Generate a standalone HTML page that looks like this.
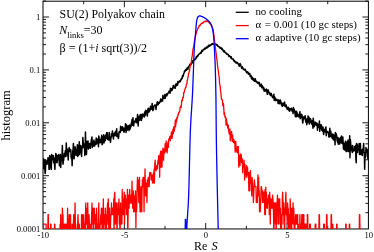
<!DOCTYPE html>
<html><head><meta charset="utf-8"><style>
html,body{margin:0;padding:0;background:#fff;}
body{width:374px;height:252px;overflow:hidden;}
svg{display:block;will-change:transform;}
text{font-family:"Liberation Serif",serif;fill:#000;stroke:none;}
</style></head><body>
<svg width="374" height="252" viewBox="0 0 374 252">
<rect width="374" height="252" fill="#fff"/>
<defs><clipPath id="c"><rect x="43.0" y="1.2" width="325.4" height="227.75"/></clipPath></defs>
<rect x="43.0" y="1.2" width="325.4" height="227.75" fill="none" stroke="#000" stroke-width="1.0"/>
<line x1="83.67" y1="228.95" x2="83.67" y2="225.95" stroke="#000" stroke-width="0.9"/>
<line x1="83.67" y1="1.20" x2="83.67" y2="4.20" stroke="#000" stroke-width="0.9"/>
<line x1="124.35" y1="228.95" x2="124.35" y2="222.95" stroke="#000" stroke-width="0.9"/>
<line x1="124.35" y1="1.20" x2="124.35" y2="7.20" stroke="#000" stroke-width="0.9"/>
<line x1="165.03" y1="228.95" x2="165.03" y2="225.95" stroke="#000" stroke-width="0.9"/>
<line x1="165.03" y1="1.20" x2="165.03" y2="4.20" stroke="#000" stroke-width="0.9"/>
<line x1="205.70" y1="228.95" x2="205.70" y2="222.95" stroke="#000" stroke-width="0.9"/>
<line x1="205.70" y1="1.20" x2="205.70" y2="7.20" stroke="#000" stroke-width="0.9"/>
<line x1="246.37" y1="228.95" x2="246.37" y2="225.95" stroke="#000" stroke-width="0.9"/>
<line x1="246.37" y1="1.20" x2="246.37" y2="4.20" stroke="#000" stroke-width="0.9"/>
<line x1="287.05" y1="228.95" x2="287.05" y2="222.95" stroke="#000" stroke-width="0.9"/>
<line x1="287.05" y1="1.20" x2="287.05" y2="3.80" stroke="#000" stroke-width="0.9"/>
<line x1="327.73" y1="228.95" x2="327.73" y2="225.95" stroke="#000" stroke-width="0.9"/>
<line x1="327.73" y1="1.20" x2="327.73" y2="4.20" stroke="#000" stroke-width="0.9"/>
<line x1="43.00" y1="212.68" x2="46.00" y2="212.68" stroke="#000" stroke-width="0.9"/>
<line x1="368.40" y1="212.68" x2="365.40" y2="212.68" stroke="#000" stroke-width="0.9"/>
<line x1="43.00" y1="203.36" x2="46.00" y2="203.36" stroke="#000" stroke-width="0.9"/>
<line x1="368.40" y1="203.36" x2="365.40" y2="203.36" stroke="#000" stroke-width="0.9"/>
<line x1="43.00" y1="196.75" x2="46.00" y2="196.75" stroke="#000" stroke-width="0.9"/>
<line x1="368.40" y1="196.75" x2="365.40" y2="196.75" stroke="#000" stroke-width="0.9"/>
<line x1="43.00" y1="191.62" x2="46.00" y2="191.62" stroke="#000" stroke-width="0.9"/>
<line x1="368.40" y1="191.62" x2="365.40" y2="191.62" stroke="#000" stroke-width="0.9"/>
<line x1="43.00" y1="187.44" x2="46.00" y2="187.44" stroke="#000" stroke-width="0.9"/>
<line x1="368.40" y1="187.44" x2="365.40" y2="187.44" stroke="#000" stroke-width="0.9"/>
<line x1="43.00" y1="183.89" x2="46.00" y2="183.89" stroke="#000" stroke-width="0.9"/>
<line x1="368.40" y1="183.89" x2="365.40" y2="183.89" stroke="#000" stroke-width="0.9"/>
<line x1="43.00" y1="180.83" x2="46.00" y2="180.83" stroke="#000" stroke-width="0.9"/>
<line x1="368.40" y1="180.83" x2="365.40" y2="180.83" stroke="#000" stroke-width="0.9"/>
<line x1="43.00" y1="178.12" x2="46.00" y2="178.12" stroke="#000" stroke-width="0.9"/>
<line x1="368.40" y1="178.12" x2="365.40" y2="178.12" stroke="#000" stroke-width="0.9"/>
<line x1="43.00" y1="175.70" x2="49.00" y2="175.70" stroke="#000" stroke-width="0.9"/>
<line x1="368.40" y1="175.70" x2="362.40" y2="175.70" stroke="#000" stroke-width="0.9"/>
<line x1="43.00" y1="159.78" x2="46.00" y2="159.78" stroke="#000" stroke-width="0.9"/>
<line x1="368.40" y1="159.78" x2="365.40" y2="159.78" stroke="#000" stroke-width="0.9"/>
<line x1="43.00" y1="150.46" x2="46.00" y2="150.46" stroke="#000" stroke-width="0.9"/>
<line x1="368.40" y1="150.46" x2="365.40" y2="150.46" stroke="#000" stroke-width="0.9"/>
<line x1="43.00" y1="143.85" x2="46.00" y2="143.85" stroke="#000" stroke-width="0.9"/>
<line x1="368.40" y1="143.85" x2="365.40" y2="143.85" stroke="#000" stroke-width="0.9"/>
<line x1="43.00" y1="138.72" x2="46.00" y2="138.72" stroke="#000" stroke-width="0.9"/>
<line x1="368.40" y1="138.72" x2="365.40" y2="138.72" stroke="#000" stroke-width="0.9"/>
<line x1="43.00" y1="134.54" x2="46.00" y2="134.54" stroke="#000" stroke-width="0.9"/>
<line x1="368.40" y1="134.54" x2="365.40" y2="134.54" stroke="#000" stroke-width="0.9"/>
<line x1="43.00" y1="130.99" x2="46.00" y2="130.99" stroke="#000" stroke-width="0.9"/>
<line x1="368.40" y1="130.99" x2="365.40" y2="130.99" stroke="#000" stroke-width="0.9"/>
<line x1="43.00" y1="127.93" x2="46.00" y2="127.93" stroke="#000" stroke-width="0.9"/>
<line x1="368.40" y1="127.93" x2="365.40" y2="127.93" stroke="#000" stroke-width="0.9"/>
<line x1="43.00" y1="125.22" x2="46.00" y2="125.22" stroke="#000" stroke-width="0.9"/>
<line x1="368.40" y1="125.22" x2="365.40" y2="125.22" stroke="#000" stroke-width="0.9"/>
<line x1="43.00" y1="122.80" x2="49.00" y2="122.80" stroke="#000" stroke-width="0.9"/>
<line x1="368.40" y1="122.80" x2="362.40" y2="122.80" stroke="#000" stroke-width="0.9"/>
<line x1="43.00" y1="106.88" x2="46.00" y2="106.88" stroke="#000" stroke-width="0.9"/>
<line x1="368.40" y1="106.88" x2="365.40" y2="106.88" stroke="#000" stroke-width="0.9"/>
<line x1="43.00" y1="97.56" x2="46.00" y2="97.56" stroke="#000" stroke-width="0.9"/>
<line x1="368.40" y1="97.56" x2="365.40" y2="97.56" stroke="#000" stroke-width="0.9"/>
<line x1="43.00" y1="90.95" x2="46.00" y2="90.95" stroke="#000" stroke-width="0.9"/>
<line x1="368.40" y1="90.95" x2="365.40" y2="90.95" stroke="#000" stroke-width="0.9"/>
<line x1="43.00" y1="85.82" x2="46.00" y2="85.82" stroke="#000" stroke-width="0.9"/>
<line x1="368.40" y1="85.82" x2="365.40" y2="85.82" stroke="#000" stroke-width="0.9"/>
<line x1="43.00" y1="81.64" x2="46.00" y2="81.64" stroke="#000" stroke-width="0.9"/>
<line x1="368.40" y1="81.64" x2="365.40" y2="81.64" stroke="#000" stroke-width="0.9"/>
<line x1="43.00" y1="78.09" x2="46.00" y2="78.09" stroke="#000" stroke-width="0.9"/>
<line x1="368.40" y1="78.09" x2="365.40" y2="78.09" stroke="#000" stroke-width="0.9"/>
<line x1="43.00" y1="75.03" x2="46.00" y2="75.03" stroke="#000" stroke-width="0.9"/>
<line x1="368.40" y1="75.03" x2="365.40" y2="75.03" stroke="#000" stroke-width="0.9"/>
<line x1="43.00" y1="72.32" x2="46.00" y2="72.32" stroke="#000" stroke-width="0.9"/>
<line x1="368.40" y1="72.32" x2="365.40" y2="72.32" stroke="#000" stroke-width="0.9"/>
<line x1="43.00" y1="69.90" x2="49.00" y2="69.90" stroke="#000" stroke-width="0.9"/>
<line x1="368.40" y1="69.90" x2="362.40" y2="69.90" stroke="#000" stroke-width="0.9"/>
<line x1="43.00" y1="53.98" x2="46.00" y2="53.98" stroke="#000" stroke-width="0.9"/>
<line x1="368.40" y1="53.98" x2="365.40" y2="53.98" stroke="#000" stroke-width="0.9"/>
<line x1="43.00" y1="44.66" x2="46.00" y2="44.66" stroke="#000" stroke-width="0.9"/>
<line x1="368.40" y1="44.66" x2="365.40" y2="44.66" stroke="#000" stroke-width="0.9"/>
<line x1="43.00" y1="38.05" x2="46.00" y2="38.05" stroke="#000" stroke-width="0.9"/>
<line x1="368.40" y1="38.05" x2="365.40" y2="38.05" stroke="#000" stroke-width="0.9"/>
<line x1="43.00" y1="32.92" x2="46.00" y2="32.92" stroke="#000" stroke-width="0.9"/>
<line x1="368.40" y1="32.92" x2="365.40" y2="32.92" stroke="#000" stroke-width="0.9"/>
<line x1="43.00" y1="28.74" x2="46.00" y2="28.74" stroke="#000" stroke-width="0.9"/>
<line x1="368.40" y1="28.74" x2="365.40" y2="28.74" stroke="#000" stroke-width="0.9"/>
<line x1="43.00" y1="25.19" x2="46.00" y2="25.19" stroke="#000" stroke-width="0.9"/>
<line x1="368.40" y1="25.19" x2="365.40" y2="25.19" stroke="#000" stroke-width="0.9"/>
<line x1="43.00" y1="22.13" x2="46.00" y2="22.13" stroke="#000" stroke-width="0.9"/>
<line x1="368.40" y1="22.13" x2="365.40" y2="22.13" stroke="#000" stroke-width="0.9"/>
<line x1="43.00" y1="19.42" x2="46.00" y2="19.42" stroke="#000" stroke-width="0.9"/>
<line x1="368.40" y1="19.42" x2="365.40" y2="19.42" stroke="#000" stroke-width="0.9"/>
<line x1="43.00" y1="17.00" x2="49.00" y2="17.00" stroke="#000" stroke-width="0.9"/>
<line x1="368.40" y1="17.00" x2="362.40" y2="17.00" stroke="#000" stroke-width="0.9"/>
<line x1="43.00" y1="1.08" x2="46.00" y2="1.08" stroke="#000" stroke-width="0.9"/>
<line x1="368.40" y1="1.08" x2="365.40" y2="1.08" stroke="#000" stroke-width="0.9"/>
<g clip-path="url(#c)" fill="none" stroke-linejoin="round" stroke-linecap="butt">
<path d="M43.16 169.36 L43.49 158.81 L43.81 164.24 L44.14 160.05 L44.46 167.52 L44.79 169.36 L45.12 173.55 L45.44 171.36 L45.77 160.05 L46.09 162.75 L46.42 164.24 L46.74 161.36 L47.07 164.24 L47.39 161.36 L47.72 161.36 L48.04 157.63 L48.37 162.75 L48.69 160.05 L49.02 169.36 L49.35 169.36 L49.67 155.44 L50.00 165.82 L50.32 160.05 L50.65 156.51 L50.97 167.52 L51.30 169.36 L51.62 154.42 L51.95 160.05 L52.27 158.81 L52.60 156.51 L52.92 155.44 L53.25 155.44 L53.58 162.75 L53.90 157.63 L54.23 161.36 L54.55 164.24 L54.88 169.36 L55.20 161.36 L55.53 156.51 L55.85 153.44 L56.18 154.42 L56.50 158.81 L56.83 162.75 L57.15 162.75 L57.48 155.44 L57.81 160.05 L58.13 155.44 L58.46 156.51 L58.78 154.42 L59.11 158.81 L59.43 165.82 L59.76 161.36 L60.08 160.05 L60.41 154.42 L60.73 167.52 L61.06 161.36 L61.39 156.51 L61.71 160.05 L62.04 155.44 L62.36 145.44 L62.69 158.81 L63.01 164.24 L63.34 161.36 L63.66 160.05 L63.99 156.51 L64.31 153.44 L64.64 154.42 L64.96 156.51 L65.29 150.73 L65.62 152.50 L65.94 156.51 L66.27 142.88 L66.59 150.73 L66.92 149.09 L67.24 149.09 L67.57 155.44 L67.89 155.44 L68.22 160.05 L68.54 152.50 L68.87 149.09 L69.19 147.56 L69.52 151.60 L69.85 149.09 L70.17 151.60 L70.50 151.60 L70.82 149.90 L71.15 157.63 L71.47 158.81 L71.80 155.44 L72.12 165.82 L72.45 156.51 L72.77 151.60 L73.10 149.09 L73.42 143.49 L73.75 157.63 L74.08 158.81 L74.40 154.42 L74.73 153.44 L75.05 146.83 L75.38 148.31 L75.70 150.73 L76.03 155.44 L76.35 153.44 L76.68 149.90 L77.00 151.60 L77.33 144.77 L77.66 156.51 L77.98 145.44 L78.31 155.44 L78.63 150.73 L78.96 149.09 L79.28 141.70 L79.61 154.42 L79.93 148.31 L80.26 146.12 L80.58 145.44 L80.91 152.50 L81.23 149.09 L81.56 156.51 L81.89 149.90 L82.21 146.12 L82.54 147.56 L82.86 137.51 L83.19 142.28 L83.51 147.56 L83.84 144.77 L84.16 147.56 L84.49 144.12 L84.81 155.44 L85.14 149.90 L85.46 132.01 L85.79 146.83 L86.12 143.49 L86.44 154.42 L86.77 148.31 L87.09 141.14 L87.42 147.56 L87.74 141.70 L88.07 141.14 L88.39 149.09 L88.72 148.31 L89.04 144.12 L89.37 144.12 L89.69 147.56 L90.02 143.49 L90.35 148.31 L90.67 144.77 L91.00 143.49 L91.32 139.51 L91.65 139.51 L91.97 137.04 L92.30 147.56 L92.62 143.49 L92.95 144.12 L93.27 146.12 L93.60 141.70 L93.93 140.04 L94.25 143.49 L94.58 146.12 L94.90 143.49 L95.23 144.77 L95.55 141.70 L95.88 142.88 L96.20 138.00 L96.53 144.12 L96.85 139.51 L97.18 139.00 L97.50 142.88 L97.83 141.70 L98.16 139.51 L98.48 146.83 L98.81 136.12 L99.13 138.49 L99.46 141.14 L99.78 142.28 L100.11 142.88 L100.43 139.51 L100.76 142.28 L101.08 140.04 L101.41 138.00 L101.73 135.24 L102.06 144.77 L102.39 144.12 L102.71 138.49 L103.04 136.58 L103.36 139.51 L103.69 134.81 L104.01 142.88 L104.34 140.58 L104.66 138.00 L104.99 136.12 L105.31 140.58 L105.64 135.68 L105.96 134.81 L106.29 136.58 L106.62 132.77 L106.94 138.49 L107.27 132.77 L107.59 139.51 L107.92 139.00 L108.24 139.00 L108.57 138.00 L108.89 140.04 L109.22 132.39 L109.54 133.57 L109.87 137.04 L110.20 140.04 L110.52 142.28 L110.85 138.49 L111.17 137.04 L111.50 137.04 L111.82 133.57 L112.15 133.57 L112.47 130.91 L112.80 135.68 L113.12 135.24 L113.45 139.00 L113.77 134.39 L114.10 133.57 L114.43 135.24 L114.75 135.68 L115.08 132.01 L115.40 132.01 L115.73 131.63 L116.05 130.91 L116.38 136.12 L116.70 128.85 L117.03 136.58 L117.35 134.81 L117.68 133.97 L118.00 136.12 L118.33 138.49 L118.66 137.51 L118.98 132.01 L119.31 131.63 L119.63 132.01 L119.96 132.39 L120.28 132.39 L120.61 126.36 L120.93 129.18 L121.26 128.52 L121.58 130.55 L121.91 128.52 L122.23 126.66 L122.56 130.20 L122.89 127.26 L123.21 128.20 L123.54 130.91 L123.86 132.01 L124.19 132.01 L124.51 130.55 L124.84 127.88 L125.16 128.20 L125.49 123.85 L125.81 128.20 L126.14 132.39 L126.47 124.66 L126.79 125.49 L127.12 130.20 L127.44 126.36 L127.77 129.51 L128.09 126.66 L128.42 125.78 L128.74 128.85 L129.07 130.55 L129.39 126.07 L129.72 124.93 L130.04 129.18 L130.37 126.96 L130.70 125.21 L131.02 126.66 L131.35 122.82 L131.67 123.07 L132.00 119.53 L132.32 121.12 L132.65 125.21 L132.97 117.64 L133.30 124.39 L133.62 125.78 L133.95 123.33 L134.27 121.35 L134.60 122.07 L134.93 121.83 L135.25 121.59 L135.58 119.97 L135.90 118.46 L136.23 122.57 L136.55 118.88 L136.88 122.82 L137.20 120.20 L137.53 114.45 L137.85 120.42 L138.18 126.07 L138.50 119.75 L138.83 116.46 L139.16 116.66 L139.48 119.31 L139.81 120.20 L140.13 114.80 L140.46 117.44 L140.78 114.45 L141.11 115.34 L141.43 120.42 L141.76 114.62 L142.08 118.25 L142.41 113.93 L142.74 116.46 L143.06 115.71 L143.39 114.80 L143.71 114.27 L144.04 113.93 L144.36 117.05 L144.69 112.12 L145.01 112.60 L145.34 115.16 L145.66 110.14 L145.99 111.18 L146.31 111.18 L146.64 110.88 L146.97 112.76 L147.29 116.08 L147.62 113.42 L147.94 109.01 L148.27 108.19 L148.59 111.96 L148.92 112.12 L149.24 109.01 L149.57 111.03 L149.89 110.73 L150.22 108.60 L150.54 106.15 L150.87 109.01 L151.20 109.29 L151.52 109.01 L151.85 106.77 L152.17 103.39 L152.50 108.46 L152.82 110.58 L153.15 108.46 L153.47 109.71 L153.80 106.52 L154.12 105.79 L154.45 105.67 L154.77 105.07 L155.10 104.96 L155.43 106.03 L155.75 107.15 L156.08 109.57 L156.40 104.73 L156.73 105.55 L157.05 102.33 L157.38 104.50 L157.70 101.72 L158.03 104.84 L158.35 104.16 L158.68 103.28 L159.01 102.64 L159.33 103.28 L159.66 102.54 L159.98 101.52 L160.31 101.82 L160.63 99.06 L160.96 101.72 L161.28 101.12 L161.61 99.33 L161.93 100.93 L162.26 99.06 L162.58 101.02 L162.91 95.18 L163.24 97.24 L163.56 97.75 L163.89 98.44 L164.21 97.75 L164.54 98.35 L164.86 94.44 L165.19 98.26 L165.51 96.43 L165.84 96.35 L166.16 95.41 L166.49 93.86 L166.81 95.80 L167.14 93.93 L167.47 94.51 L167.79 93.86 L168.12 93.01 L168.44 92.40 L168.77 92.20 L169.09 91.10 L169.42 92.14 L169.74 91.81 L170.07 93.22 L170.39 88.24 L170.72 91.10 L171.04 89.27 L171.37 88.69 L171.70 90.53 L172.02 89.15 L172.35 89.92 L172.67 87.68 L173.00 87.30 L173.32 85.44 L173.65 87.63 L173.97 88.07 L174.30 86.82 L174.62 86.25 L174.95 85.89 L175.28 88.24 L175.60 84.33 L175.93 85.94 L176.25 85.84 L176.58 83.86 L176.90 84.52 L177.23 84.52 L177.55 85.29 L177.88 81.53 L178.20 83.00 L178.53 82.17 L178.85 82.51 L179.18 81.53 L179.51 81.03 L179.83 80.79 L180.16 81.70 L180.48 81.11 L180.81 79.68 L181.13 79.84 L181.46 78.37 L181.78 78.92 L182.11 78.33 L182.43 75.98 L182.76 75.43 L183.08 76.51 L183.41 74.95 L183.74 73.49 L184.06 73.23 L184.39 71.54 L184.71 70.72 L185.04 71.62 L185.36 70.12 L185.69 69.62 L186.01 69.92 L186.34 70.12 L186.66 69.77 L186.99 67.91 L187.31 67.96 L187.64 68.81 L187.97 69.17 L188.29 66.90 L188.62 67.30 L188.94 66.33 L189.27 65.58 L189.59 65.56 L189.92 64.36 L190.24 64.70 L190.57 64.09 L190.89 64.54 L191.22 64.30 L191.55 63.30 L191.87 62.52 L192.20 62.88 L192.52 60.81 L192.85 62.42 L193.17 62.42 L193.50 60.74 L193.82 60.45 L194.15 59.22 L194.47 60.01 L194.80 59.97 L195.12 59.42 L195.45 58.93 L195.78 58.81 L196.10 57.03 L196.43 58.10 L196.75 57.14 L197.08 56.34 L197.40 55.70 L197.73 56.33 L198.05 55.48 L198.38 54.76 L198.70 54.22 L199.03 54.22 L199.35 53.66 L199.68 53.54 L200.01 53.71 L200.33 53.01 L200.66 52.72 L200.98 51.95 L201.31 53.08 L201.63 51.43 L201.96 50.19 L202.28 51.03 L202.61 51.32 L202.93 50.16 L203.26 49.69 L203.58 49.76 L203.91 48.94 L204.24 49.36 L204.56 48.77 L204.89 48.03 L205.21 49.01 L205.54 48.19 L205.86 48.17 L206.19 47.76 L206.51 47.03 L206.84 48.05 L207.16 46.98 L207.49 46.99 L207.82 47.48 L208.14 46.39 L208.47 45.32 L208.79 46.07 L209.12 46.26 L209.44 46.21 L209.77 45.05 L210.09 45.52 L210.42 45.55 L210.74 45.20 L211.07 44.80 L211.39 43.99 L211.72 44.66 L212.05 44.51 L212.37 43.52 L212.70 44.30 L213.02 43.90 L213.35 44.06 L213.67 44.02 L214.00 43.68 L214.32 44.20 L214.65 44.80 L214.97 43.81 L215.30 44.43 L215.62 44.33 L215.95 44.70 L216.28 44.25 L216.60 44.98 L216.93 45.03 L217.25 44.79 L217.58 46.00 L217.90 45.84 L218.23 46.32 L218.55 46.55 L218.88 46.64 L219.20 47.09 L219.53 47.33 L219.85 47.02 L220.18 48.23 L220.51 48.17 L220.83 47.89 L221.16 47.87 L221.48 48.61 L221.81 49.37 L222.13 48.37 L222.46 49.85 L222.78 49.58 L223.11 50.34 L223.43 51.16 L223.76 51.08 L224.09 52.14 L224.41 50.68 L224.74 51.56 L225.06 52.30 L225.39 52.67 L225.71 52.71 L226.04 52.89 L226.36 53.57 L226.69 54.11 L227.01 53.84 L227.34 53.98 L227.66 54.57 L227.99 54.52 L228.32 54.44 L228.64 55.33 L228.97 56.61 L229.29 55.77 L229.62 55.78 L229.94 56.54 L230.27 56.46 L230.59 56.88 L230.92 58.10 L231.24 56.68 L231.57 58.51 L231.89 58.58 L232.22 59.07 L232.55 59.07 L232.87 58.90 L233.20 58.96 L233.52 60.32 L233.85 59.89 L234.17 61.41 L234.50 60.77 L234.82 61.17 L235.15 62.13 L235.47 61.83 L235.80 61.96 L236.12 63.15 L236.45 62.24 L236.78 62.21 L237.10 62.98 L237.43 62.50 L237.75 62.96 L238.08 64.07 L238.40 64.11 L238.73 65.21 L239.05 64.36 L239.38 66.28 L239.70 65.33 L240.03 63.43 L240.36 65.38 L240.68 64.60 L241.01 66.48 L241.33 66.61 L241.66 68.33 L241.98 68.15 L242.31 66.72 L242.63 67.36 L242.96 68.15 L243.28 69.37 L243.61 69.42 L243.93 69.67 L244.26 69.94 L244.59 69.35 L244.91 69.77 L245.24 69.27 L245.56 70.56 L245.89 71.16 L246.21 71.46 L246.54 72.62 L246.86 72.28 L247.19 72.82 L247.51 71.81 L247.84 72.03 L248.16 73.40 L248.49 74.18 L248.82 73.26 L249.14 74.33 L249.47 74.36 L249.79 73.49 L250.12 76.38 L250.44 75.24 L250.77 75.78 L251.09 75.62 L251.42 78.40 L251.74 78.15 L252.07 79.30 L252.39 77.26 L252.72 79.00 L253.05 79.80 L253.37 80.51 L253.70 78.40 L254.02 79.60 L254.35 79.53 L254.67 81.28 L255.00 80.11 L255.32 78.77 L255.65 80.99 L255.97 81.78 L256.30 81.70 L256.63 81.24 L256.95 81.99 L257.28 82.95 L257.60 82.78 L257.93 82.17 L258.25 83.40 L258.58 82.82 L258.90 83.36 L259.23 82.34 L259.55 84.90 L259.88 85.54 L260.20 86.35 L260.53 84.47 L260.86 86.05 L261.18 83.91 L261.51 86.00 L261.83 87.74 L262.16 85.54 L262.48 86.46 L262.81 87.85 L263.13 87.04 L263.46 89.50 L263.78 87.85 L264.11 91.16 L264.43 88.98 L264.76 90.66 L265.09 89.74 L265.41 91.10 L265.74 90.22 L266.06 90.35 L266.39 88.98 L266.71 91.81 L267.04 92.54 L267.36 94.29 L267.69 94.29 L268.01 89.68 L268.34 90.66 L268.66 91.74 L268.99 92.54 L269.32 92.74 L269.64 92.47 L269.97 94.66 L270.29 94.07 L270.62 95.49 L270.94 93.93 L271.27 93.50 L271.59 95.64 L271.92 95.11 L272.24 96.59 L272.57 97.33 L272.90 97.66 L273.22 96.92 L273.55 97.66 L273.87 94.15 L274.20 100.54 L274.52 96.59 L274.85 98.61 L275.17 97.92 L275.50 98.88 L275.82 100.63 L276.15 100.54 L276.47 100.35 L276.80 99.33 L277.13 99.79 L277.45 100.07 L277.78 101.02 L278.10 103.39 L278.43 100.63 L278.75 99.88 L279.08 102.85 L279.40 103.83 L279.73 102.96 L280.05 103.17 L280.38 100.07 L280.70 101.72 L281.03 102.02 L281.36 104.96 L281.68 103.83 L282.01 105.07 L282.33 106.39 L282.66 104.16 L282.98 102.96 L283.31 104.96 L283.63 105.43 L283.96 104.73 L284.28 105.79 L284.61 102.12 L284.93 104.96 L285.26 106.52 L285.59 105.79 L285.91 106.27 L286.24 105.07 L286.56 107.93 L286.89 108.19 L287.21 109.43 L287.54 108.33 L287.86 107.15 L288.19 107.80 L288.51 107.53 L288.84 110.29 L289.17 108.46 L289.49 111.18 L289.82 110.88 L290.14 109.15 L290.47 108.73 L290.79 109.85 L291.12 108.87 L291.44 108.19 L291.77 108.73 L292.09 111.18 L292.42 110.58 L292.74 111.03 L293.07 113.59 L293.40 107.40 L293.72 111.80 L294.05 109.01 L294.37 110.29 L294.70 110.44 L295.02 113.09 L295.35 116.66 L295.67 112.12 L296.00 115.16 L296.32 111.18 L296.65 116.66 L296.97 111.96 L297.30 116.27 L297.63 113.93 L297.95 115.71 L298.28 115.71 L298.60 115.53 L298.93 117.05 L299.25 114.27 L299.58 114.27 L299.90 111.65 L300.23 118.67 L300.55 116.46 L300.88 117.05 L301.20 117.64 L301.53 114.27 L301.86 114.80 L302.18 115.90 L302.51 121.12 L302.83 123.07 L303.16 117.24 L303.48 119.97 L303.81 117.05 L304.13 117.84 L304.46 117.05 L304.78 118.46 L305.11 115.71 L305.44 118.46 L305.76 122.07 L306.09 119.31 L306.41 119.10 L306.74 124.66 L307.06 120.42 L307.39 118.67 L307.71 122.82 L308.04 115.90 L308.36 119.75 L308.69 119.31 L309.01 117.24 L309.34 124.12 L309.67 122.57 L309.99 118.88 L310.32 121.12 L310.64 118.88 L310.97 122.07 L311.29 122.57 L311.62 123.59 L311.94 124.39 L312.27 120.65 L312.59 123.33 L312.92 128.20 L313.24 118.25 L313.57 122.32 L313.90 121.35 L314.22 126.66 L314.55 125.49 L314.87 123.59 L315.20 123.33 L315.52 122.32 L315.85 124.66 L316.17 125.21 L316.50 124.93 L316.82 123.07 L317.15 123.59 L317.47 130.20 L317.80 124.12 L318.13 124.66 L318.45 126.36 L318.78 126.07 L319.10 127.26 L319.43 121.12 L319.75 131.27 L320.08 127.57 L320.40 127.57 L320.73 124.66 L321.05 127.88 L321.38 124.93 L321.71 130.20 L322.03 126.66 L322.36 128.85 L322.68 131.27 L323.01 126.96 L323.33 131.63 L323.66 134.39 L323.98 130.55 L324.31 131.27 L324.63 129.51 L324.96 130.20 L325.28 132.01 L325.61 127.88 L325.94 126.96 L326.26 135.68 L326.59 130.91 L326.91 132.01 L327.24 131.63 L327.56 132.39 L327.89 131.63 L328.21 132.77 L328.54 133.17 L328.86 137.04 L329.19 137.04 L329.51 134.39 L329.84 128.20 L330.17 135.68 L330.49 136.58 L330.82 131.27 L331.14 134.39 L331.47 133.97 L331.79 137.04 L332.12 138.00 L332.44 138.49 L332.77 133.97 L333.09 136.12 L333.42 140.04 L333.74 134.81 L334.07 136.58 L334.40 139.00 L334.72 137.51 L335.05 144.77 L335.37 132.39 L335.70 133.57 L336.02 137.04 L336.35 133.97 L336.67 136.12 L337.00 140.04 L337.32 141.14 L337.65 142.28 L337.98 137.51 L338.30 144.12 L338.63 142.88 L338.95 144.12 L339.28 138.49 L339.60 144.12 L339.93 141.14 L340.25 141.14 L340.58 137.51 L340.90 140.58 L341.23 142.88 L341.55 136.12 L341.88 142.88 L342.21 142.28 L342.53 143.49 L342.86 137.04 L343.18 143.49 L343.51 149.09 L343.83 142.88 L344.16 144.77 L344.48 149.90 L344.81 149.09 L345.13 148.31 L345.46 141.14 L345.78 149.90 L346.11 151.60 L346.44 145.44 L346.76 151.60 L347.09 141.70 L347.41 148.31 L347.74 144.77 L348.06 140.04 L348.39 151.60 L348.71 148.31 L349.04 145.44 L349.36 151.60 L349.69 135.68 L350.01 157.63 L350.34 139.51 L350.67 142.88 L350.99 149.09 L351.32 146.12 L351.64 150.73 L351.97 146.83 L352.29 152.50 L352.62 145.44 L352.94 151.60 L353.27 149.09 L353.59 150.73 L353.92 149.09 L354.25 150.73 L354.57 146.83 L354.90 147.56 L355.22 148.31 L355.55 145.44 L355.87 157.63 L356.20 162.75 L356.52 143.49 L356.85 144.77 L357.17 144.12 L357.50 152.50 L357.82 145.44 L358.15 147.56 L358.48 149.90 L358.80 149.09 L359.13 143.49 L359.45 154.42 L359.78 147.56 L360.10 146.83 L360.43 143.49 L360.75 154.42 L361.08 154.42 L361.40 153.44 L361.73 149.90 L362.05 152.50 L362.38 155.44 L362.71 149.09 L363.03 149.09 L363.36 147.56 L363.68 143.49 L364.01 152.50 L364.33 152.50 L364.66 169.36 L364.98 156.51 L365.31 157.63 L365.63 156.51 L365.96 147.56 L366.28 151.60 L366.61 149.09 L366.94 149.09 L367.26 149.90 L367.59 155.44 L367.91 158.81 L368.24 154.42" stroke="#000" stroke-width="1.5"/>
<path d="M43.16 240.95 L43.49 224.03 L43.81 224.03 L44.14 224.03 L44.46 224.03 L44.79 224.03 L45.12 224.03 L45.44 224.03 L45.77 224.03 L46.09 224.03 L46.42 240.95 L46.74 240.95 L47.07 240.95 L47.39 240.95 L47.72 240.95 L48.04 214.72 L48.37 214.72 L48.69 240.95 L49.02 240.95 L49.35 240.95 L49.67 240.95 L50.00 240.95 L50.32 240.95 L50.65 224.03 L50.97 224.03 L51.30 240.95 L51.62 240.95 L51.95 240.95 L52.27 240.95 L52.60 240.95 L52.92 240.95 L53.25 240.95 L53.58 240.95 L53.90 240.95 L54.23 240.95 L54.55 224.03 L54.88 224.03 L55.20 240.95 L55.53 240.95 L55.85 240.95 L56.18 240.95 L56.50 240.95 L56.83 240.95 L57.15 240.95 L57.48 240.95 L57.81 240.95 L58.13 240.95 L58.46 240.95 L58.78 240.95 L59.11 240.95 L59.43 240.95 L59.76 240.95 L60.08 224.03 L60.41 240.95 L60.73 214.72 L61.06 239.96 L61.39 224.03 L61.71 239.96 L62.04 239.96 L62.36 208.11 L62.69 214.72 L63.01 214.72 L63.34 239.96 L63.66 240.95 L63.99 240.95 L64.31 224.03 L64.64 239.96 L64.96 239.96 L65.29 224.03 L65.62 239.96 L65.94 239.96 L66.27 224.03 L66.59 224.03 L66.92 240.95 L67.24 239.96 L67.57 208.11 L67.89 239.96 L68.22 239.96 L68.54 239.96 L68.87 224.03 L69.19 214.72 L69.52 240.95 L69.85 240.95 L70.17 224.03 L70.50 214.72 L70.82 239.96 L71.15 240.95 L71.47 239.96 L71.80 239.96 L72.12 224.03 L72.45 239.96 L72.77 240.95 L73.10 239.96 L73.42 224.03 L73.75 214.72 L74.08 239.96 L74.40 224.03 L74.73 240.95 L75.05 202.98 L75.38 224.03 L75.70 240.95 L76.03 240.95 L76.35 239.96 L76.68 240.95 L77.00 240.95 L77.33 224.03 L77.66 224.03 L77.98 214.72 L78.31 224.03 L78.63 239.96 L78.96 239.96 L79.28 224.03 L79.61 239.96 L79.93 239.96 L80.26 239.96 L80.58 239.96 L80.91 239.96 L81.23 240.95 L81.56 214.72 L81.89 240.95 L82.21 214.72 L82.54 239.96 L82.86 239.96 L83.19 239.96 L83.51 214.72 L83.84 224.03 L84.16 224.03 L84.49 224.03 L84.81 239.96 L85.14 239.96 L85.46 214.72 L85.79 202.98 L86.12 224.03 L86.44 214.72 L86.77 224.03 L87.09 208.11 L87.42 239.96 L87.74 202.98 L88.07 224.03 L88.39 224.03 L88.72 239.96 L89.04 214.72 L89.37 224.03 L89.69 239.96 L90.02 239.96 L90.35 239.96 L90.67 224.03 L91.00 239.96 L91.32 224.03 L91.65 214.72 L91.97 202.98 L92.30 224.03 L92.62 208.11 L92.95 208.11 L93.27 239.96 L93.60 224.03 L93.93 224.03 L94.25 208.11 L94.58 214.72 L94.90 214.72 L95.23 214.72 L95.55 240.95 L95.88 224.03 L96.20 240.95 L96.53 208.11 L96.85 224.03 L97.18 239.96 L97.50 224.03 L97.83 224.03 L98.16 239.96 L98.48 214.72 L98.81 202.98 L99.13 239.96 L99.46 240.95 L99.78 239.96 L100.11 224.03 L100.43 224.03 L100.76 214.72 L101.08 224.03 L101.41 208.11 L101.73 214.72 L102.06 224.03 L102.39 240.95 L102.71 208.11 L103.04 214.72 L103.36 198.79 L103.69 240.95 L104.01 214.72 L104.34 214.72 L104.66 214.72 L104.99 224.03 L105.31 208.11 L105.64 239.96 L105.96 224.03 L106.29 239.96 L106.62 214.72 L106.94 214.72 L107.27 208.11 L107.59 202.98 L107.92 224.03 L108.24 198.79 L108.57 208.11 L108.89 239.96 L109.22 240.95 L109.54 208.11 L109.87 224.03 L110.20 239.96 L110.52 224.03 L110.85 214.72 L111.17 214.72 L111.50 202.98 L111.82 214.72 L112.15 208.11 L112.47 208.11 L112.80 208.11 L113.12 214.72 L113.45 214.72 L113.77 198.79 L114.10 239.96 L114.43 195.25 L114.75 192.18 L115.08 208.11 L115.40 224.03 L115.73 208.11 L116.05 202.98 L116.38 202.98 L116.70 214.72 L117.03 239.96 L117.35 214.72 L117.68 214.72 L118.00 202.98 L118.33 214.72 L118.66 214.72 L118.98 198.79 L119.31 224.03 L119.63 208.11 L119.96 239.96 L120.28 224.03 L120.61 202.98 L120.93 224.03 L121.26 214.72 L121.58 208.11 L121.91 224.03 L122.23 189.48 L122.56 214.72 L122.89 198.79 L123.21 214.72 L123.54 208.11 L123.86 214.72 L124.19 192.18 L124.51 224.03 L124.84 208.11 L125.16 208.11 L125.49 195.25 L125.81 208.11 L126.14 198.79 L126.47 214.72 L126.79 198.79 L127.12 208.11 L127.44 189.48 L127.77 240.95 L128.09 214.72 L128.42 195.25 L128.74 198.79 L129.07 208.11 L129.39 195.25 L129.72 189.48 L130.04 202.98 L130.37 202.98 L130.70 198.79 L131.02 195.25 L131.35 195.25 L131.67 202.98 L132.00 181.03 L132.32 198.79 L132.65 208.11 L132.97 192.18 L133.30 190.79 L133.62 211.84 L133.95 202.53 L134.27 202.53 L134.60 195.92 L134.93 211.84 L135.25 195.92 L135.58 190.79 L135.90 227.77 L136.23 202.53 L136.55 211.84 L136.88 202.53 L137.20 186.60 L137.53 177.29 L137.85 190.79 L138.18 179.99 L138.50 190.79 L138.83 202.53 L139.16 202.53 L139.48 177.29 L139.81 202.53 L140.13 211.84 L140.46 211.84 L140.78 190.79 L141.11 186.60 L141.43 190.79 L141.76 211.84 L142.08 190.79 L142.41 179.99 L142.74 186.60 L143.06 177.29 L143.39 177.29 L143.71 177.29 L144.04 211.84 L144.36 186.60 L144.69 186.60 L145.01 168.84 L145.34 186.60 L145.66 195.92 L145.99 183.06 L146.31 183.06 L146.64 186.60 L146.97 202.53 L147.29 179.99 L147.62 186.60 L147.94 186.60 L148.27 177.29 L148.59 186.60 L148.92 179.99 L149.24 186.60 L149.57 172.68 L149.89 172.68 L150.22 172.68 L150.54 174.87 L150.87 172.68 L151.20 179.99 L151.52 174.87 L151.85 177.29 L152.17 174.87 L152.50 183.06 L152.82 174.87 L153.15 179.99 L153.47 172.68 L153.80 183.06 L154.12 168.84 L154.45 183.06 L154.77 164.07 L155.10 160.12 L155.43 168.84 L155.75 165.55 L156.08 170.68 L156.40 168.84 L156.73 165.55 L157.05 167.14 L157.38 168.84 L157.70 164.07 L158.03 160.12 L158.35 162.67 L158.68 155.73 L159.01 164.07 L159.33 156.75 L159.66 177.29 L159.98 155.73 L160.31 153.81 L160.63 151.21 L160.96 167.14 L161.28 156.75 L161.61 151.21 L161.93 167.14 L162.26 158.94 L162.58 154.75 L162.91 148.14 L163.24 157.82 L163.56 160.12 L163.89 151.21 L164.21 148.87 L164.54 148.87 L164.86 152.91 L165.19 143.60 L165.51 145.44 L165.84 151.21 L166.16 140.83 L166.49 150.40 L166.81 146.75 L167.14 152.91 L167.47 148.14 L167.79 143.60 L168.12 141.90 L168.44 147.44 L168.77 139.31 L169.09 138.35 L169.42 139.31 L169.74 136.55 L170.07 136.99 L170.39 140.83 L170.72 135.70 L171.04 137.89 L171.37 132.58 L171.70 131.86 L172.02 138.35 L172.35 136.55 L172.67 131.17 L173.00 129.20 L173.32 133.70 L173.65 126.81 L173.97 131.51 L174.30 130.83 L174.62 128.57 L174.95 125.97 L175.28 120.20 L175.60 126.52 L175.93 123.88 L176.25 119.16 L176.58 121.74 L176.90 117.40 L177.23 118.96 L177.55 117.21 L177.88 116.12 L178.20 113.75 L178.53 114.73 L178.85 112.05 L179.18 112.50 L179.51 111.31 L179.83 110.88 L180.16 107.46 L180.48 107.34 L180.81 105.93 L181.13 107.34 L181.46 103.96 L181.78 100.10 L182.11 100.19 L182.43 100.82 L182.76 97.58 L183.08 97.19 L183.41 97.43 L183.74 92.35 L184.06 92.99 L184.39 91.42 L184.71 89.66 L185.04 89.05 L185.36 88.08 L185.69 87.41 L186.01 87.11 L186.34 84.09 L186.66 83.91 L186.99 83.52 L187.31 80.31 L187.64 79.25 L187.97 76.97 L188.29 76.05 L188.62 73.43 L188.94 73.04 L189.27 71.61 L189.59 70.32 L189.92 67.43 L190.24 66.16 L190.57 65.58 L190.89 63.90 L191.22 62.32 L191.55 59.90 L191.87 57.35 L192.20 56.06 L192.52 53.69 L192.85 49.99 L193.17 48.66 L193.50 47.37 L193.82 45.76 L194.15 43.18 L194.47 40.93 L194.80 39.78 L195.12 37.39 L195.45 36.23 L195.78 34.74 L196.10 33.85 L196.43 32.81 L196.75 31.07 L197.08 30.50 L197.40 29.83 L197.73 28.83 L198.05 27.98 L198.38 27.91 L198.70 27.03 L199.03 25.94 L199.35 25.49 L199.68 25.07 L200.01 25.61 L200.33 25.20 L200.66 24.16 L200.98 24.19 L201.31 23.40 L201.63 23.28 L201.96 23.17 L202.28 23.27 L202.61 22.64 L202.93 22.94 L203.26 22.15 L203.58 22.31 L203.91 21.85 L204.24 21.67 L204.56 21.40 L204.89 21.33 L205.21 21.21 L205.54 21.69 L205.86 21.13 L206.19 21.08 L206.51 21.50 L206.84 21.03 L207.16 20.71 L207.49 21.13 L207.82 21.48 L208.14 21.84 L208.47 21.69 L208.79 22.43 L209.12 22.29 L209.44 23.14 L209.77 23.38 L210.09 23.19 L210.42 24.19 L210.74 24.29 L211.07 25.05 L211.39 25.34 L211.72 25.91 L212.05 26.89 L212.37 27.47 L212.70 28.62 L213.02 29.47 L213.35 31.50 L213.67 33.93 L214.00 35.57 L214.32 39.19 L214.65 41.59 L214.97 44.67 L215.30 46.83 L215.62 49.74 L215.95 52.15 L216.28 54.55 L216.60 58.31 L216.93 59.25 L217.25 62.69 L217.58 65.73 L217.90 68.39 L218.23 69.77 L218.55 73.43 L218.88 75.71 L219.20 77.13 L219.53 83.35 L219.85 85.08 L220.18 86.12 L220.51 90.58 L220.83 92.22 L221.16 95.97 L221.48 99.23 L221.81 99.15 L222.13 100.10 L222.46 100.01 L222.78 105.70 L223.11 104.38 L223.43 103.54 L223.76 107.96 L224.09 114.73 L224.41 112.05 L224.74 115.41 L225.06 117.40 L225.39 116.29 L225.71 117.97 L226.04 125.16 L226.36 118.75 L226.69 121.29 L227.01 122.90 L227.34 124.39 L227.66 127.38 L227.99 128.57 L228.32 125.16 L228.64 130.49 L228.97 131.86 L229.29 134.09 L229.62 129.83 L229.94 129.20 L230.27 140.83 L230.59 132.22 L230.92 132.95 L231.24 137.43 L231.57 131.51 L231.89 136.99 L232.22 141.35 L232.55 134.88 L232.87 138.83 L233.20 141.90 L233.52 142.45 L233.85 139.31 L234.17 143.02 L234.50 141.35 L234.82 141.35 L235.15 152.05 L235.47 149.63 L235.80 141.35 L236.12 148.87 L236.45 148.14 L236.78 152.05 L237.10 148.87 L237.43 146.75 L237.75 152.91 L238.08 148.87 L238.40 146.75 L238.73 167.14 L239.05 162.67 L239.38 155.73 L239.70 160.12 L240.03 165.55 L240.36 153.81 L240.68 161.36 L241.01 155.73 L241.33 154.75 L241.66 162.67 L241.98 162.67 L242.31 158.94 L242.63 172.68 L242.96 164.07 L243.28 165.55 L243.61 167.14 L243.93 160.12 L244.26 164.07 L244.59 179.99 L244.91 164.07 L245.24 170.68 L245.56 170.68 L245.89 172.68 L246.21 177.29 L246.54 165.55 L246.86 174.87 L247.19 172.68 L247.51 167.14 L247.84 172.68 L248.16 177.29 L248.49 172.68 L248.82 190.79 L249.14 172.68 L249.47 174.87 L249.79 190.79 L250.12 174.87 L250.44 170.68 L250.77 183.06 L251.09 183.06 L251.42 183.06 L251.74 195.92 L252.07 177.29 L252.39 183.06 L252.72 190.79 L253.05 186.60 L253.37 202.53 L253.70 195.92 L254.02 186.60 L254.35 179.99 L254.67 183.06 L255.00 186.60 L255.32 186.60 L255.65 186.60 L255.97 186.60 L256.30 202.53 L256.63 195.92 L256.95 195.92 L257.28 202.53 L257.60 190.79 L257.93 174.87 L258.25 195.92 L258.58 177.29 L258.90 190.79 L259.23 190.79 L259.55 211.84 L259.88 202.53 L260.20 211.84 L260.53 202.53 L260.86 195.92 L261.18 186.60 L261.51 186.60 L261.83 190.79 L262.16 190.79 L262.48 202.53 L262.81 190.79 L263.13 202.53 L263.46 195.25 L263.78 195.25 L264.11 192.18 L264.43 192.18 L264.76 214.72 L265.09 189.48 L265.41 214.72 L265.74 187.06 L266.06 202.98 L266.39 192.18 L266.71 208.11 L267.04 198.79 L267.36 208.11 L267.69 198.79 L268.01 202.98 L268.34 195.25 L268.66 195.25 L268.99 202.98 L269.32 214.72 L269.64 192.18 L269.97 198.79 L270.29 224.03 L270.62 198.79 L270.94 208.11 L271.27 208.11 L271.59 208.11 L271.92 198.79 L272.24 208.11 L272.57 195.25 L272.90 198.79 L273.22 202.98 L273.55 214.72 L273.87 239.96 L274.20 214.72 L274.52 202.98 L274.85 202.98 L275.17 208.11 L275.50 224.03 L275.82 202.98 L276.15 239.96 L276.47 214.72 L276.80 224.03 L277.13 202.98 L277.45 195.25 L277.78 208.11 L278.10 202.98 L278.43 224.03 L278.75 198.79 L279.08 202.98 L279.40 208.11 L279.73 198.79 L280.05 224.03 L280.38 208.11 L280.70 239.96 L281.03 224.03 L281.36 239.96 L281.68 214.72 L282.01 224.03 L282.33 198.79 L282.66 192.18 L282.98 202.98 L283.31 214.72 L283.63 202.98 L283.96 224.03 L284.28 224.03 L284.61 240.95 L284.93 208.11 L285.26 208.11 L285.59 198.79 L285.91 192.18 L286.24 214.72 L286.56 214.72 L286.89 214.72 L287.21 224.03 L287.54 202.98 L287.86 208.11 L288.19 208.11 L288.51 214.72 L288.84 239.96 L289.17 224.03 L289.49 214.72 L289.82 240.95 L290.14 198.79 L290.47 208.11 L290.79 224.03 L291.12 208.11 L291.44 239.96 L291.77 224.03 L292.09 224.03 L292.42 208.11 L292.74 214.72 L293.07 202.98 L293.40 224.03 L293.72 208.11 L294.05 214.72 L294.37 239.96 L294.70 239.96 L295.02 224.03 L295.35 224.03 L295.67 214.72 L296.00 224.03 L296.32 224.03 L296.65 224.03 L296.97 214.72 L297.30 224.03 L297.63 214.72 L297.95 239.96 L298.28 224.03 L298.60 239.96 L298.93 240.95 L299.25 240.95 L299.58 239.96 L299.90 214.72 L300.23 239.96 L300.55 224.03 L300.88 240.95 L301.20 224.03 L301.53 224.03 L301.86 214.72 L302.18 239.96 L302.51 240.95 L302.83 214.72 L303.16 239.96 L303.48 239.96 L303.81 214.72 L304.13 240.95 L304.46 240.95 L304.78 224.03 L305.11 239.96 L305.44 239.96 L305.76 224.03 L306.09 224.03 L306.41 239.96 L306.74 240.95 L307.06 240.95 L307.39 214.72 L307.71 214.72 L308.04 240.95 L308.36 240.95 L308.69 240.95 L309.01 240.95 L309.34 240.95 L309.67 224.03 L309.99 224.03 L310.32 224.03 L310.64 240.95 L310.97 240.95 L311.29 240.95 L311.62 240.95 L311.94 240.95 L312.27 240.95 L312.59 240.95 L312.92 240.95 L313.24 240.95 L313.57 240.95 L313.90 240.95 L314.22 240.95 L314.55 240.95 L314.87 240.95 L315.20 224.03 L315.52 224.03 L315.85 224.03 L316.17 240.95 L316.50 240.95 L316.82 240.95 L317.15 240.95 L317.47 240.95 L317.80 240.95 L318.13 240.95 L318.45 240.95 L318.78 240.95 L319.10 214.72 L319.43 214.72 L319.75 240.95 L320.08 240.95 L320.40 240.95 L320.73 240.95 L321.05 240.95 L321.38 240.95 L321.71 240.95 L322.03 240.95 L322.36 240.95 L322.68 240.95 L323.01 240.95 L323.33 240.95 L323.66 224.03 L323.98 224.03 L324.31 224.03 L324.63 240.95 L324.96 240.95 L325.28 240.95 L325.61 240.95 L325.94 240.95 L326.26 240.95 L326.59 214.72 L326.91 214.72 L327.24 240.95 L327.56 240.95 L327.89 240.95 L328.21 240.95 L328.54 240.95 L328.86 240.95 L329.19 240.95 L329.51 240.95 L329.84 240.95 L330.17 240.95 L330.49 240.95 L330.82 240.95 L331.14 214.72 L331.47 214.72 L331.79 240.95 L332.12 240.95 L332.44 240.95 L332.77 224.03 L333.09 240.95 L333.42 240.95 L333.74 240.95 L334.07 240.95 L334.40 240.95 L334.72 240.95 L335.05 240.95 L335.37 240.95 L335.70 240.95 L336.02 240.95 L336.35 240.95 L336.67 224.03 L337.00 224.03 L337.32 240.95 L337.65 240.95 L337.98 240.95 L338.30 240.95 L338.63 240.95 L338.95 240.95 L339.28 240.95 L339.60 240.95 L339.93 240.95 L340.25 240.95 L340.58 240.95 L340.90 240.95 L341.23 240.95 L341.55 240.95 L341.88 240.95 L342.21 240.95 L342.53 240.95 L342.86 240.95 L343.18 240.95 L343.51 240.95 L343.83 240.95 L344.16 240.95 L344.48 240.95 L344.81 240.95 L345.13 240.95 L345.46 240.95 L345.78 224.03 L346.11 224.03 L346.44 240.95 L346.76 240.95 L347.09 240.95 L347.41 240.95 L347.74 240.95 L348.06 240.95 L348.39 240.95 L348.71 240.95 L349.04 240.95 L349.36 224.03 L349.69 224.03 L350.01 240.95 L350.34 240.95 L350.67 240.95 L350.99 240.95 L351.32 240.95 L351.64 240.95 L351.97 240.95 L352.29 240.95 L352.62 240.95 L352.94 240.95 L353.27 240.95 L353.59 240.95 L353.92 240.95 L354.25 240.95 L354.57 240.95 L354.90 240.95 L355.22 240.95 L355.55 240.95 L355.87 240.95 L356.20 240.95 L356.52 240.95 L356.85 240.95 L357.17 240.95 L357.50 240.95 L357.82 240.95 L358.15 240.95 L358.48 240.95 L358.80 240.95 L359.13 240.95 L359.45 214.72 L359.78 214.72 L360.10 240.95 L360.43 240.95 L360.75 240.95 L361.08 240.95 L361.40 240.95 L361.73 240.95 L362.05 240.95 L362.38 240.95 L362.71 240.95 L363.03 240.95 L363.36 240.95 L363.68 240.95 L364.01 240.95 L364.33 240.95 L364.66 240.95 L364.98 240.95 L365.31 240.95 L365.63 240.95 L365.96 240.95 L366.28 240.95 L366.61 240.95 L366.94 240.95 L367.26 240.95 L367.59 240.95 L367.91 240.95 L368.24 240.95" stroke="#f00" stroke-width="1.3"/>
<path d="M184.06 240.95 L184.39 240.95 L184.71 240.95 L185.04 240.95 L185.36 219.30 L185.69 219.30 L186.01 240.95 L186.34 240.95 L186.66 234.33 L186.99 223.74 L187.31 218.72 L187.64 213.69 L187.97 208.92 L188.29 203.57 L188.62 196.56 L188.94 186.05 L189.27 172.96 L189.59 158.90 L189.92 145.44 L190.24 134.17 L190.57 126.24 L190.89 119.97 L191.22 114.62 L191.55 109.74 L191.87 104.90 L192.20 99.65 L192.52 93.57 L192.85 86.03 L193.17 77.33 L193.50 68.18 L193.82 59.32 L194.15 51.48 L194.47 45.39 L194.80 41.20 L195.12 37.82 L195.45 34.32 L195.78 30.38 L196.10 26.42 L196.43 22.92 L196.75 20.34 L197.08 18.94 L197.40 17.92 L197.73 17.18 L198.05 16.75 L198.38 16.46 L198.70 16.22 L199.03 16.04 L199.35 15.93 L199.68 15.90 L200.01 15.93 L200.33 16.00 L200.66 16.09 L200.98 16.20 L201.31 16.33 L201.63 16.46 L201.96 16.58 L202.28 16.71 L202.61 16.84 L202.93 16.99 L203.26 17.14 L203.58 17.31 L203.91 17.48 L204.24 17.67 L204.56 17.86 L204.89 18.06 L205.21 18.27 L205.54 18.49 L205.86 18.71 L206.19 18.94 L206.51 19.18 L206.84 19.43 L207.16 19.68 L207.49 19.95 L207.82 20.24 L208.14 20.54 L208.47 20.86 L208.79 21.21 L209.12 21.58 L209.44 21.98 L209.77 22.41 L210.09 22.87 L210.42 23.37 L210.74 23.92 L211.07 24.55 L211.39 25.30 L211.72 26.18 L212.05 27.20 L212.37 28.38 L212.70 29.75 L213.02 31.37 L213.35 33.89 L213.67 37.26 L214.00 41.38 L214.32 47.37 L214.65 53.33 L214.97 59.90 L215.30 68.46 L215.62 80.34 L215.95 98.85 L216.28 134.16 L216.60 154.99 L216.93 171.45 L217.25 186.66 L217.58 201.87 L217.90 215.71 L218.23 229.03 L218.55 240.95 L218.88 240.95 L219.20 240.95 L219.53 240.95 L219.85 240.95" stroke="#00f" stroke-width="1.3"/>
</g>
<text x="40.3" y="20.00" text-anchor="end" font-size="8.6" stroke="none">1</text>
<text x="40.3" y="72.90" text-anchor="end" font-size="8.6" stroke="none">0.1</text>
<text x="40.3" y="125.80" text-anchor="end" font-size="8.6" stroke="none">0.01</text>
<text x="40.3" y="178.70" text-anchor="end" font-size="8.6" stroke="none">0.001</text>
<text x="40.3" y="231.60" text-anchor="end" font-size="8.6" stroke="none">0.0001</text>
<text x="43.30" y="238.3" text-anchor="middle" font-size="8.6" stroke="none">-10</text>
<text x="124.65" y="238.3" text-anchor="middle" font-size="8.6" stroke="none">-5</text>
<text x="206.00" y="238.3" text-anchor="middle" font-size="8.6" stroke="none">0</text>
<text x="287.35" y="238.3" text-anchor="middle" font-size="8.6" stroke="none">5</text>
<text x="368.70" y="238.3" text-anchor="middle" font-size="8.6" stroke="none">10</text>
<text x="59.6" y="17.7" font-size="11.85">SU(2) Polyakov chain</text>
<text x="59.3" y="33.8" font-size="12"><tspan font-style="italic">N</tspan><tspan font-size="8.5" dy="4.5">links</tspan><tspan dy="-4.5">=30</tspan></text>
<text x="59.6" y="51.5" font-size="12">β = (1+<tspan font-style="italic">i</tspan> sqrt(3))/2</text>
<line x1="235.7" y1="12.3" x2="248.7" y2="12.3" stroke="#000" stroke-width="1.3"/>
<line x1="235.7" y1="25.6" x2="248.7" y2="25.6" stroke="#f00" stroke-width="1.3"/>
<line x1="235.7" y1="38.7" x2="248.7" y2="38.7" stroke="#00f" stroke-width="1.3"/>
<text x="255.4" y="14.5" font-size="10.95">no cooling</text>
<text x="255.4" y="27.8" font-size="10.95">α<tspan dx="1"> = 0.001 (10 gc steps)</tspan></text>
<text x="255.4" y="41.0" font-size="10.95">α<tspan dx="1"> adaptive (10 gc steps)</tspan></text>
<text x="194" y="250.3" font-size="12">Re</text><text x="211.4" y="250.3" font-size="12.3" font-style="italic">S</text>
<text transform="translate(9.6,140.5) rotate(-90)" font-size="12.6">histogram</text>
</svg>
</body></html>
